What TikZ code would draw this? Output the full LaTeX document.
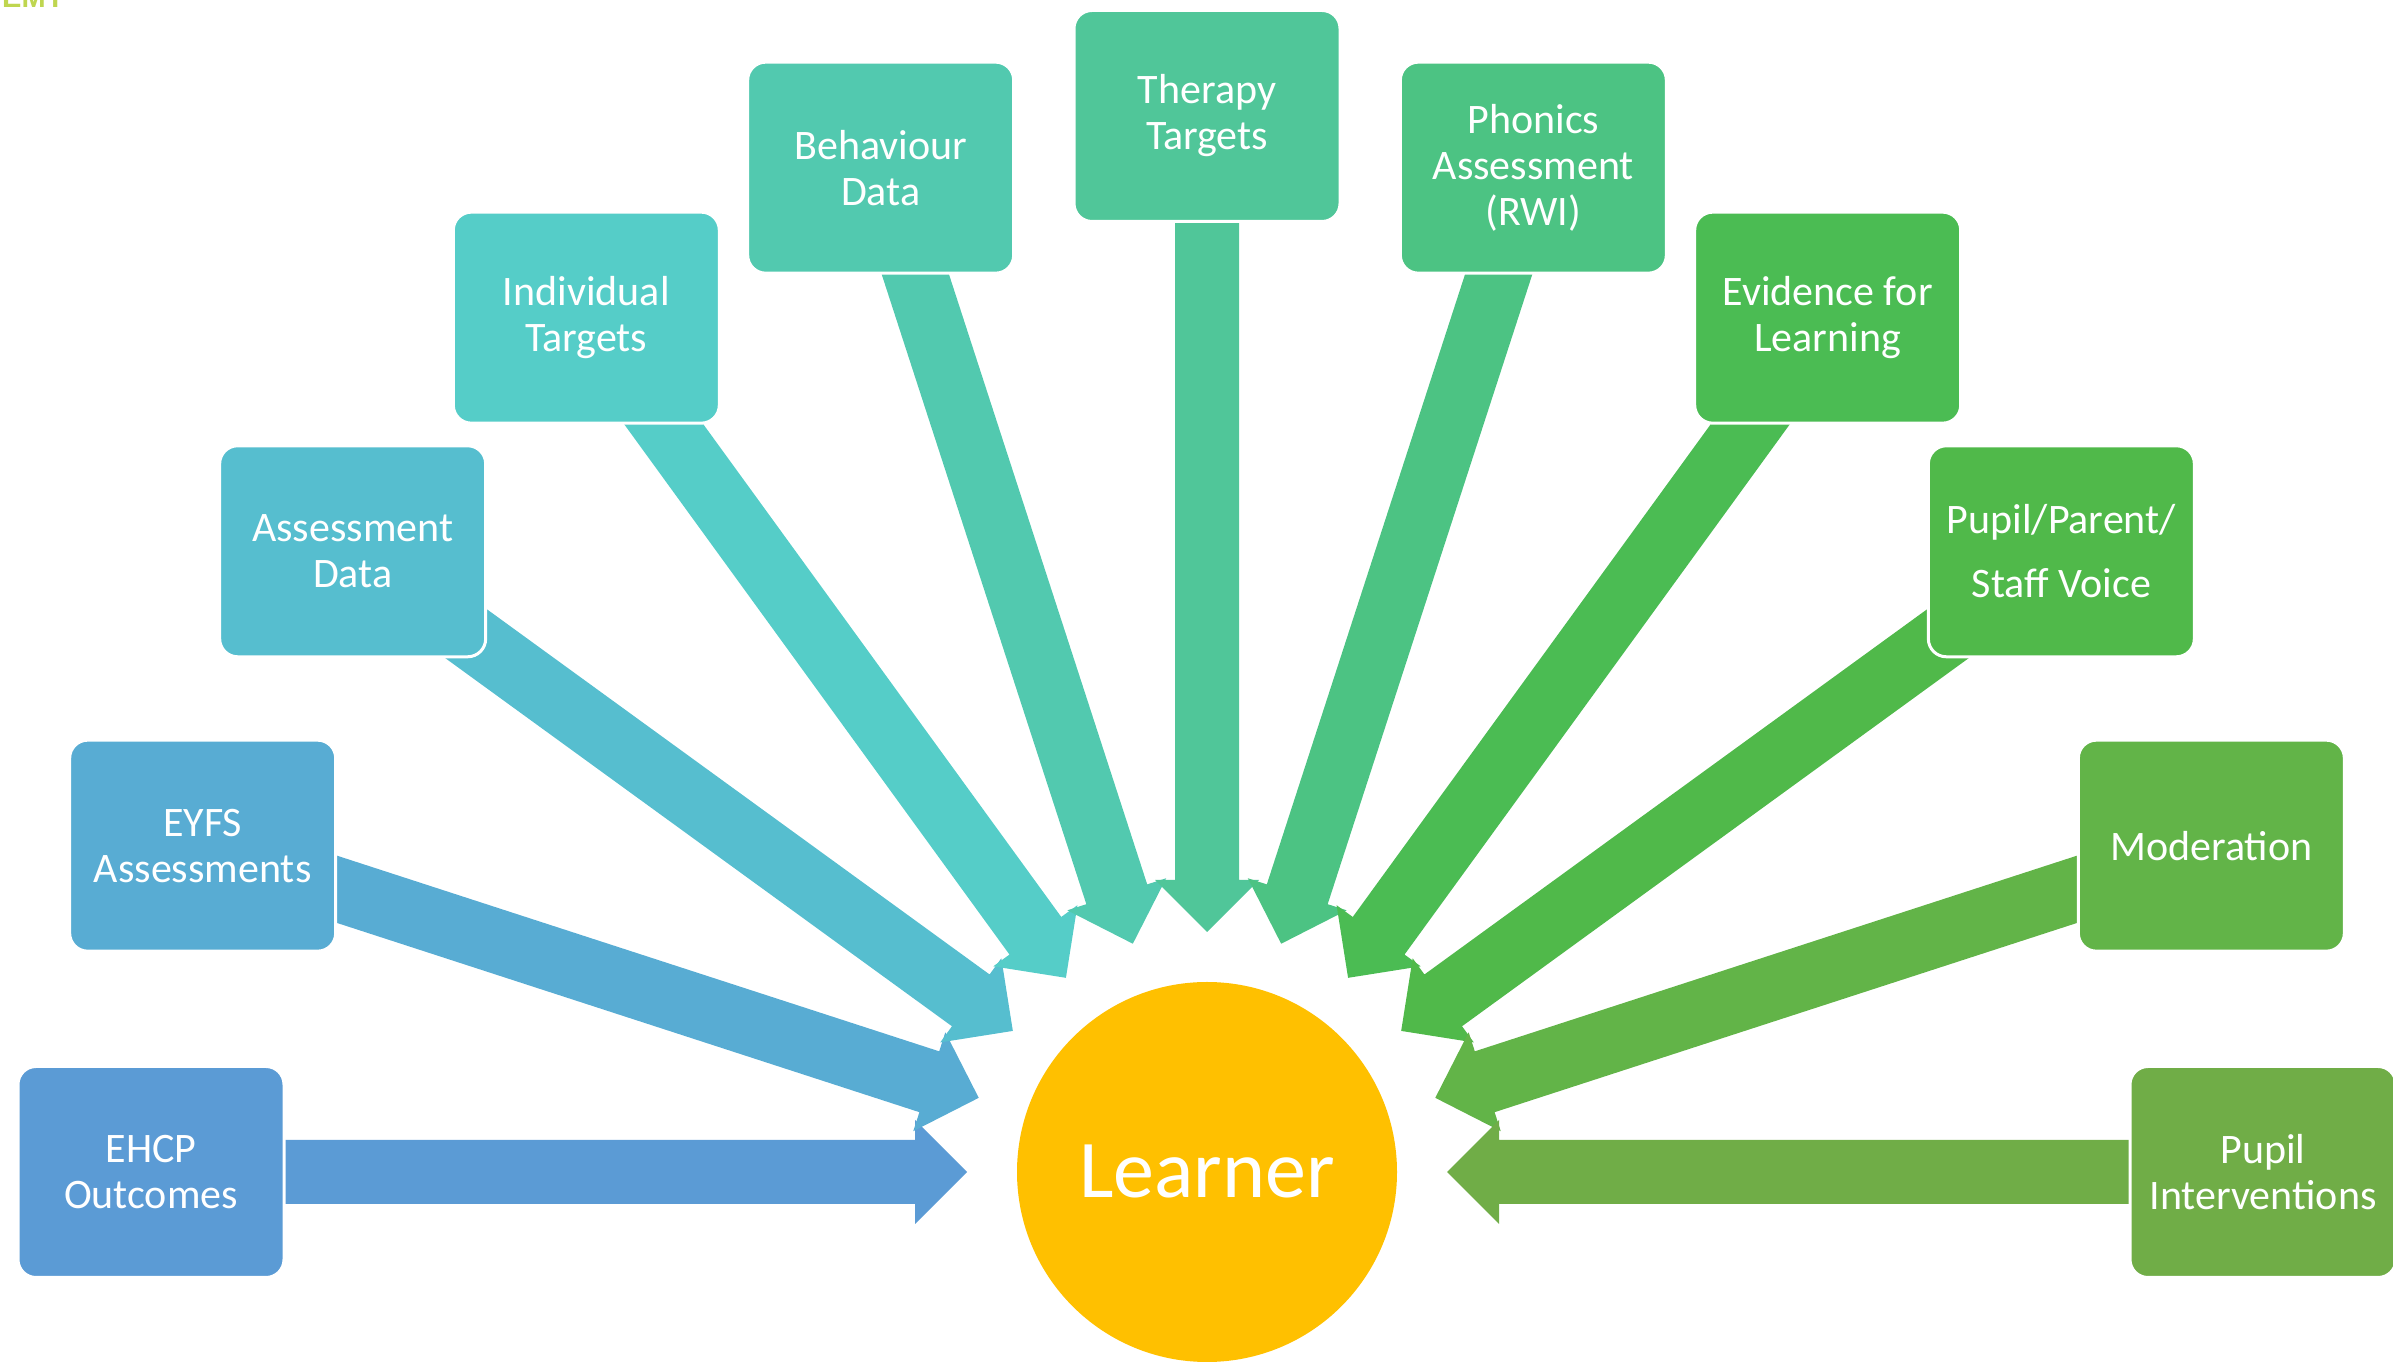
\documentclass[tikz,border=0pt]{standalone}
\usepackage{fontspec}
\setmainfont{Carlito}
\newfontfamily\logofont{Liberation Sans}
\usetikzlibrary{calc}
\definecolor{cA}{HTML}{5B9BD5}
\definecolor{cB}{HTML}{58ACD3}
\definecolor{cC}{HTML}{56BECF}
\definecolor{cD}{HTML}{55CDC8}
\definecolor{cE}{HTML}{52C9AF}
\definecolor{cF}{HTML}{50C699}
\definecolor{cG}{HTML}{4CC383}
\definecolor{cH}{HTML}{4BBC53}
\definecolor{cI}{HTML}{50B94A}
\definecolor{cJ}{HTML}{62B448}
\definecolor{cK}{HTML}{70AD47}
\definecolor{sun}{HTML}{FFC000}
\definecolor{logo}{HTML}{BFD650}
\begin{document}
\begin{tikzpicture}[x=1pt,y=1pt,
  box/.style={draw=white, line width=3pt, rounded corners=18pt,
    minimum width=266pt, minimum height=211pt, inner sep=0pt,
    text=white, align=center, font=\fontsize{42}{46}\selectfont},
  hub/.style={circle, fill=sun, minimum size=380pt, inner sep=0pt,
    text=white, font=\fontsize{82}{90}\selectfont},
  blockarrow/.style={draw=none}]
\useasboundingbox (0,0) rectangle (2393,1364);
\clip (0,0) rectangle (2393,1364);
\node[anchor=base west, inner sep=0pt, text=logo,
  font=\logofont\bfseries\fontsize{29}{30}\selectfont] (logo) at (2,1356) {EMY};
\node[hub] (L) at (1207,192) {Learner};
% block arrows from each box towards the learner
\foreach \k/\col in {0/cA,1/cB,2/cC,3/cD,4/cE,5/cF,6/cG,7/cH,8/cI,9/cJ,10/cK}{
  \fill[blockarrow, \col, shift={(L.center)}, rotate=180-18*\k]
    (240,0) -- (292,52) -- (292,32) -- (1056,32) -- (1056,-32)
    -- (292,-32) -- (292,-52) -- cycle;
}
\node[box, fill=cA] (b1) at ($(L.center)+(180:1056)$) {EHCP\\Outcomes};
\node[box, fill=cB] (b2) at ($(L.center)+(162:1056)$) {EYFS\\Assessments};
\node[box, fill=cC] (b3) at ($(L.center)+(144:1056)$) {Assessment\\Data};
\node[box, fill=cD] (b4) at ($(L.center)+(126:1056)$) {Individual\\Targets};
\node[box, fill=cE] (b5) at ($(L.center)+(108:1056)$) {Behaviour\\Data};
\node[box, fill=cF] (b6) at ($(L.center)+(90:1056)$) {Therapy\\Targets};
\node[box, fill=cG] (b7) at ($(L.center)+(72:1056)$) {Phonics\\Assessment\\(RWI)};
\node[box, fill=cH] (b8) at ($(L.center)+(54:1056)$) {Evidence for\\Learning};
\node[box, fill=cI, font=\fontsize{42}{64}\selectfont] (b9) at ($(L.center)+(36:1056)$) {Pupil/Parent/\\Staff Voice};
\node[box, fill=cJ] (b10) at ($(L.center)+(18:1056)$) {Moderation};
\node[box, fill=cK] (b11) at ($(L.center)+(0:1056)$) {Pupil\\Interventions};
\end{tikzpicture}
\end{document}
